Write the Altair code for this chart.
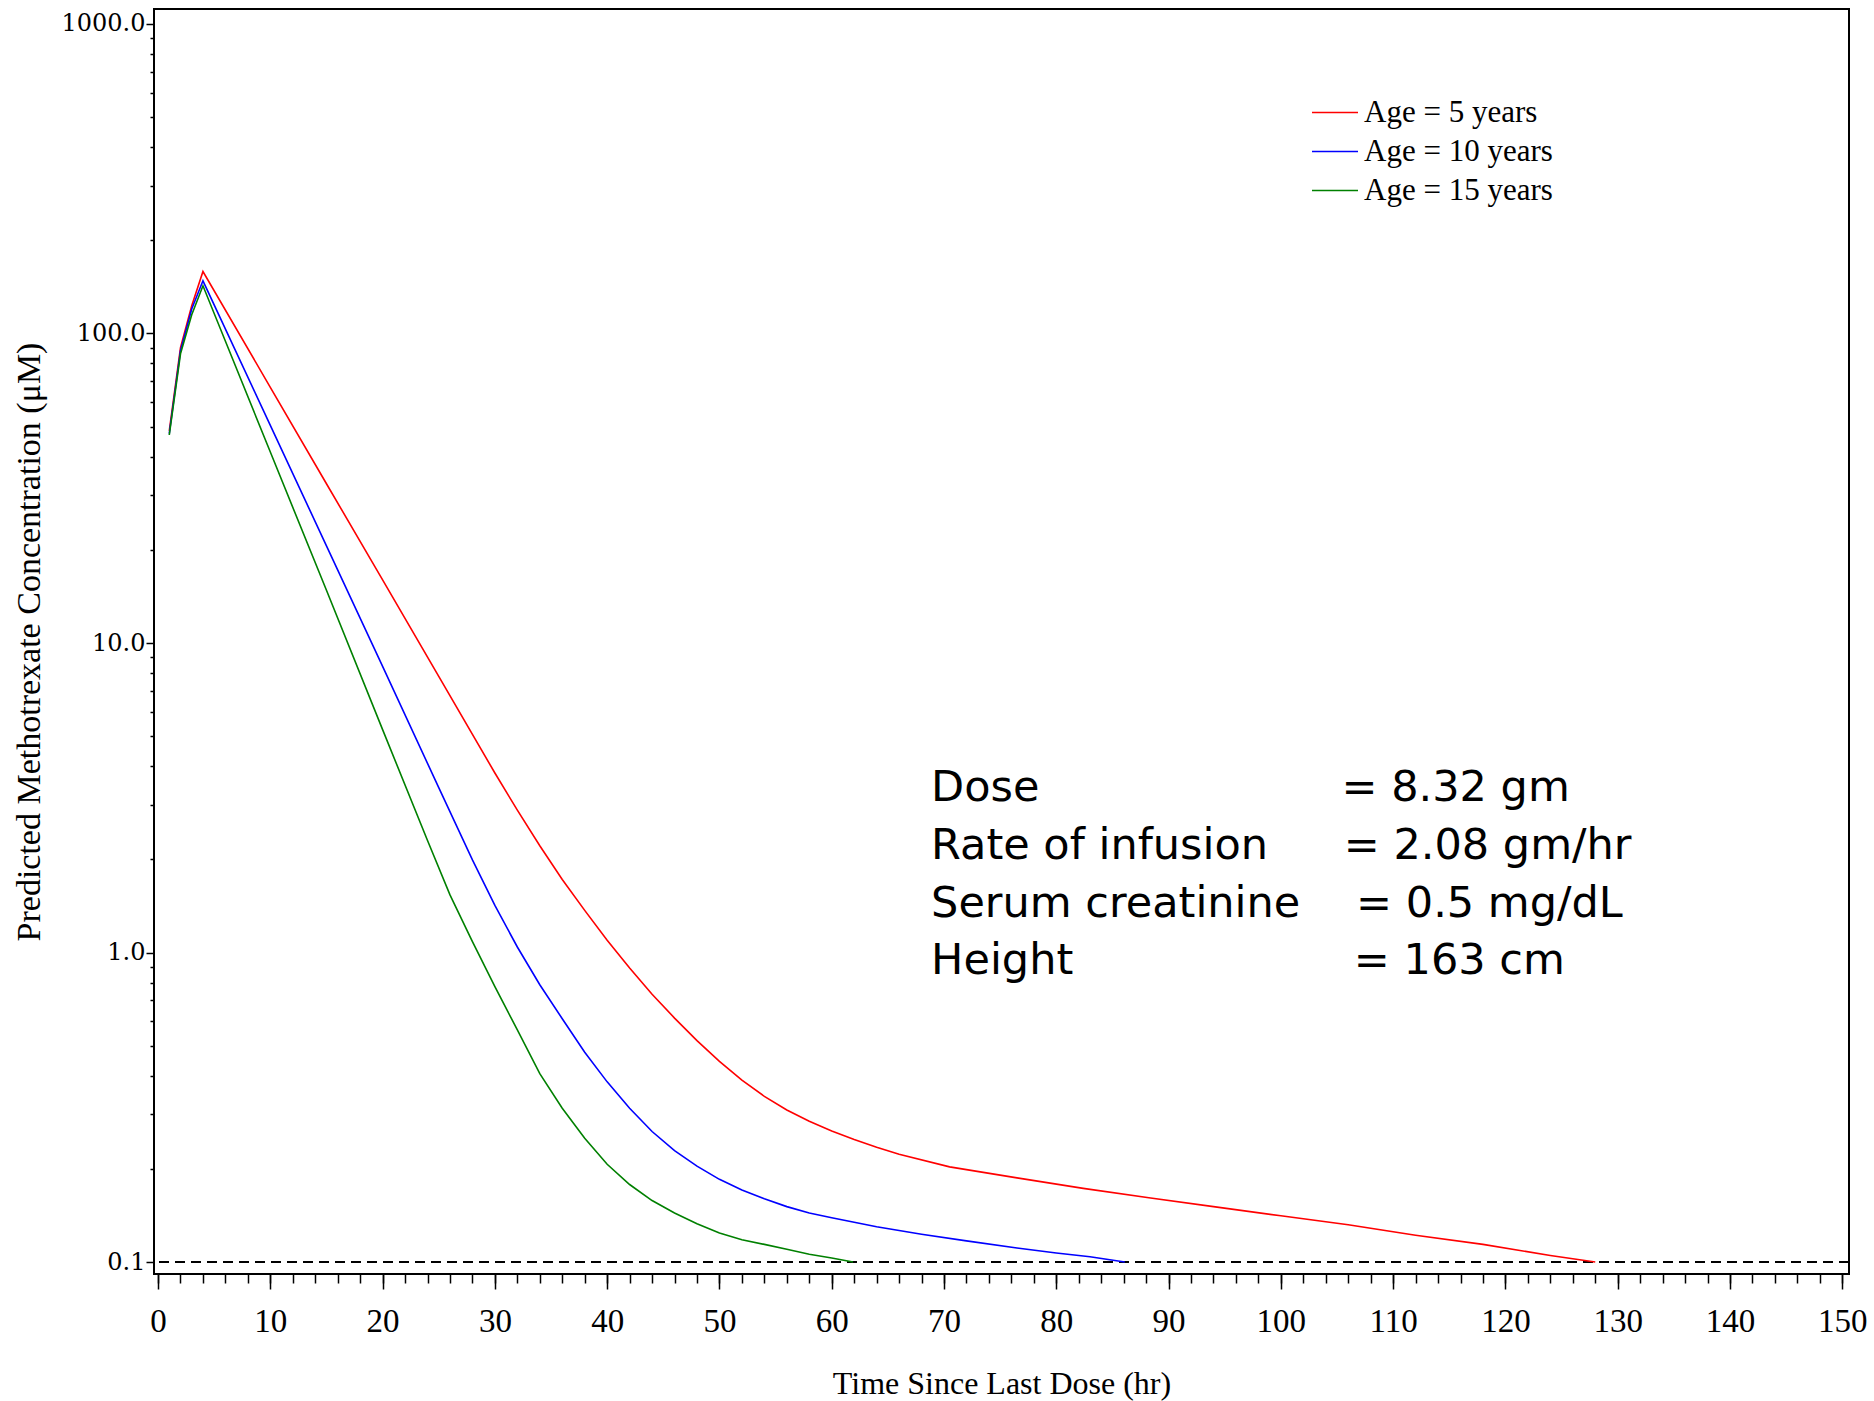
import altair as alt
import pandas as pd

# ---------------- data ----------------
series_names = ["Age = 5 years", "Age = 10 years", "Age = 15 years"]
series_colors = ["#FF0000", "#0000FF", "#008000"]

red_time = [1, 2, 3, 4, 10, 15, 20, 25, 30, 32, 34, 36, 38, 40, 42, 44, 46, 48, 50, 52, 54,
            56, 58, 60, 62, 64, 66, 70.5, 76.5, 82.4, 88.4, 94, 100, 106, 112, 118, 124, 128]
red_conc = [48.5, 90, 123, 158.6, 67.0, 32.7, 16.0, 7.8, 3.802, 2.884, 2.213, 1.722, 1.368,
            1.096, 0.891, 0.733, 0.614, 0.519, 0.445, 0.387, 0.343, 0.310, 0.285, 0.265,
            0.249, 0.235, 0.223, 0.203, 0.187, 0.173, 0.161, 0.151, 0.141, 0.132, 0.122,
            0.114, 0.105, 0.100]

blue_time = [1, 2, 3, 4, 10, 15, 20, 25, 28, 30, 32, 34, 36, 38, 40, 42, 44, 46, 48, 50, 52,
             54, 56, 58, 60, 64, 68, 72, 76.5, 80, 83, 86.1]
blue_conc = [47.5, 88, 120, 148, 50.5, 20.6, 8.4, 3.41, 1.991, 1.419, 1.042, 0.787, 0.611,
             0.476, 0.382, 0.314, 0.264, 0.229, 0.204, 0.185, 0.171, 0.160, 0.151, 0.144,
             0.139, 0.130, 0.123, 0.117, 0.111, 0.107, 0.104, 0.100]

green_time = [1, 2, 3, 4, 10, 15, 20, 24, 26, 28, 30, 32, 34, 36, 38, 40, 42, 44, 46, 48, 50,
              52, 54, 56, 58, 60, 61.9]
green_conc = [47, 86, 115, 142.6, 41.4, 14.8, 5.25, 2.301, 1.535, 1.084, 0.776, 0.562, 0.406,
              0.314, 0.251, 0.207, 0.178, 0.158, 0.144, 0.133, 0.124, 0.118, 0.114, 0.110,
              0.106, 0.103, 0.100]

threshold = [0.1]

x_major_ticks = list(range(0, 151, 10))
x_minor_ticks = list(range(0, 151, 2))
y_major_ticks = [0.1, 1, 10, 100, 1000]
y_minor_ticks = [k * 10.0 ** e for e in range(-1, 3) for k in range(2, 10)]

ann_labels = ["Dose", "Rate of infusion", "Serum creatinine", "Height",
              "= 8.32 gm", "= 2.08 gm/hr", "= 0.5 mg/dL", "= 163 cm"]
ann_time = [68.85, 68.85, 68.85, 68.85, 105.4, 105.6, 106.7, 106.5]
ann_conc = [3.40, 2.21, 1.435, 0.939, 3.40, 2.21, 1.435, 0.939]

# ---------------- tables ----------------
rows = []
for name, ts, cs in [(series_names[0], red_time, red_conc),
                     (series_names[1], blue_time, blue_conc),
                     (series_names[2], green_time, green_conc)]:
    for t, c in zip(ts, cs):
        rows.append({"series": name, "time": t, "conc": c})
df = pd.DataFrame(rows)
thr_df = pd.DataFrame({"level": threshold})
ann_df = pd.DataFrame({"label": ann_labels, "t": ann_time, "c": ann_conc})

# ---------------- scales & axes ----------------
x_scale = alt.Scale(domain=[-0.36, 150.6], nice=False, zero=False)
y_scale = alt.Scale(type="log", domain=[0.09147, 1118], nice=False)

serif = "Liberation Serif"

x_major_axis = alt.Axis(
    orient="bottom", values=x_major_ticks, tickSize=15, tickWidth=1.5, tickColor="black",
    domain=False, grid=False, labelFont=serif, labelFontSize=33, labelColor="black",
    labelPadding=16, labelFlush=False, labelOverlap=False,
    title="Time Since Last Dose (hr)", titleFont=serif, titleFontSize=32,
    titleFontWeight="normal", titleColor="black", titlePadding=30,
)
x_minor_axis = alt.Axis(
    orient="bottom", values=x_minor_ticks, tickSize=9, tickWidth=1.5, tickColor="black",
    domain=False, grid=False, labels=False, title=None,
)
y_major_axis = alt.Axis(
    orient="left", values=y_major_ticks, tickSize=8, tickWidth=1.5, tickColor="black",
    domain=False, grid=False, labelFont="DejaVu Serif", labelFontSize=24, labelColor="black",
    labelPadding=1, labelFlush=False, labelOverlap=False,
    labelExpr="datum.value < 0.5 ? '0.1' : format(datum.value, '.1f')",
    title="Predicted Methotrexate Concentration (\u03bcM)", titleFont=serif, titleFontSize=34,
    titleFontWeight="normal", titleColor="black", titlePadding=15,
)
y_minor_axis = alt.Axis(
    orient="left", values=y_minor_ticks, tickSize=4, tickWidth=1.5, tickColor="black",
    domain=False, grid=False, labels=False, title=None,
)

legend = alt.Legend(
    title=None, orient="none", legendX=1157, legendY=84, symbolType="stroke",
    symbolSize=2116, symbolStrokeWidth=1.5, labelFont=serif, labelFontSize=31,
    labelColor="black", labelOffset=5, labelLimit=0, rowPadding=0, clipHeight=39, padding=0,
)

# ---------------- layers ----------------
rule = alt.Chart(thr_df).mark_rule(color="black", strokeWidth=1.8, strokeDash=[10, 6]).encode(
    y=alt.Y("level:Q", scale=y_scale, axis=None)
)

minor = alt.Chart(df).mark_point(opacity=0).encode(
    x=alt.X("time:Q", scale=x_scale, axis=x_minor_axis),
    y=alt.Y("conc:Q", scale=y_scale, axis=y_minor_axis),
)

lines = alt.Chart(df).mark_line(strokeWidth=1.6).encode(
    x=alt.X("time:Q", scale=x_scale, axis=x_major_axis),
    y=alt.Y("conc:Q", scale=y_scale, axis=y_major_axis),
    color=alt.Color("series:N", scale=alt.Scale(domain=series_names, range=series_colors),
                    sort=series_names, legend=legend),
    order=alt.Order("time:Q"),
)

text = alt.Chart(ann_df).mark_text(
    align="left", baseline="middle", font="DejaVu Sans", fontSize=43, color="black"
).encode(
    x=alt.X("t:Q", scale=x_scale, axis=None),
    y=alt.Y("c:Q", scale=y_scale, axis=None),
    text="label:N",
)

chart = (
    alt.layer(rule, minor, lines, text)
    .resolve_axis(x="independent", y="independent")
    .properties(
        width=1695, height=1265,
        padding={"left": 154, "top": 9, "right": 25, "bottom": 127},
        autosize=alt.AutoSizeParams(type="none"),
        background="white",
    )
    .configure_view(stroke="black", strokeWidth=2)
)

chart.save("out.html", embed_options={"renderer": "svg", "actions": False})
